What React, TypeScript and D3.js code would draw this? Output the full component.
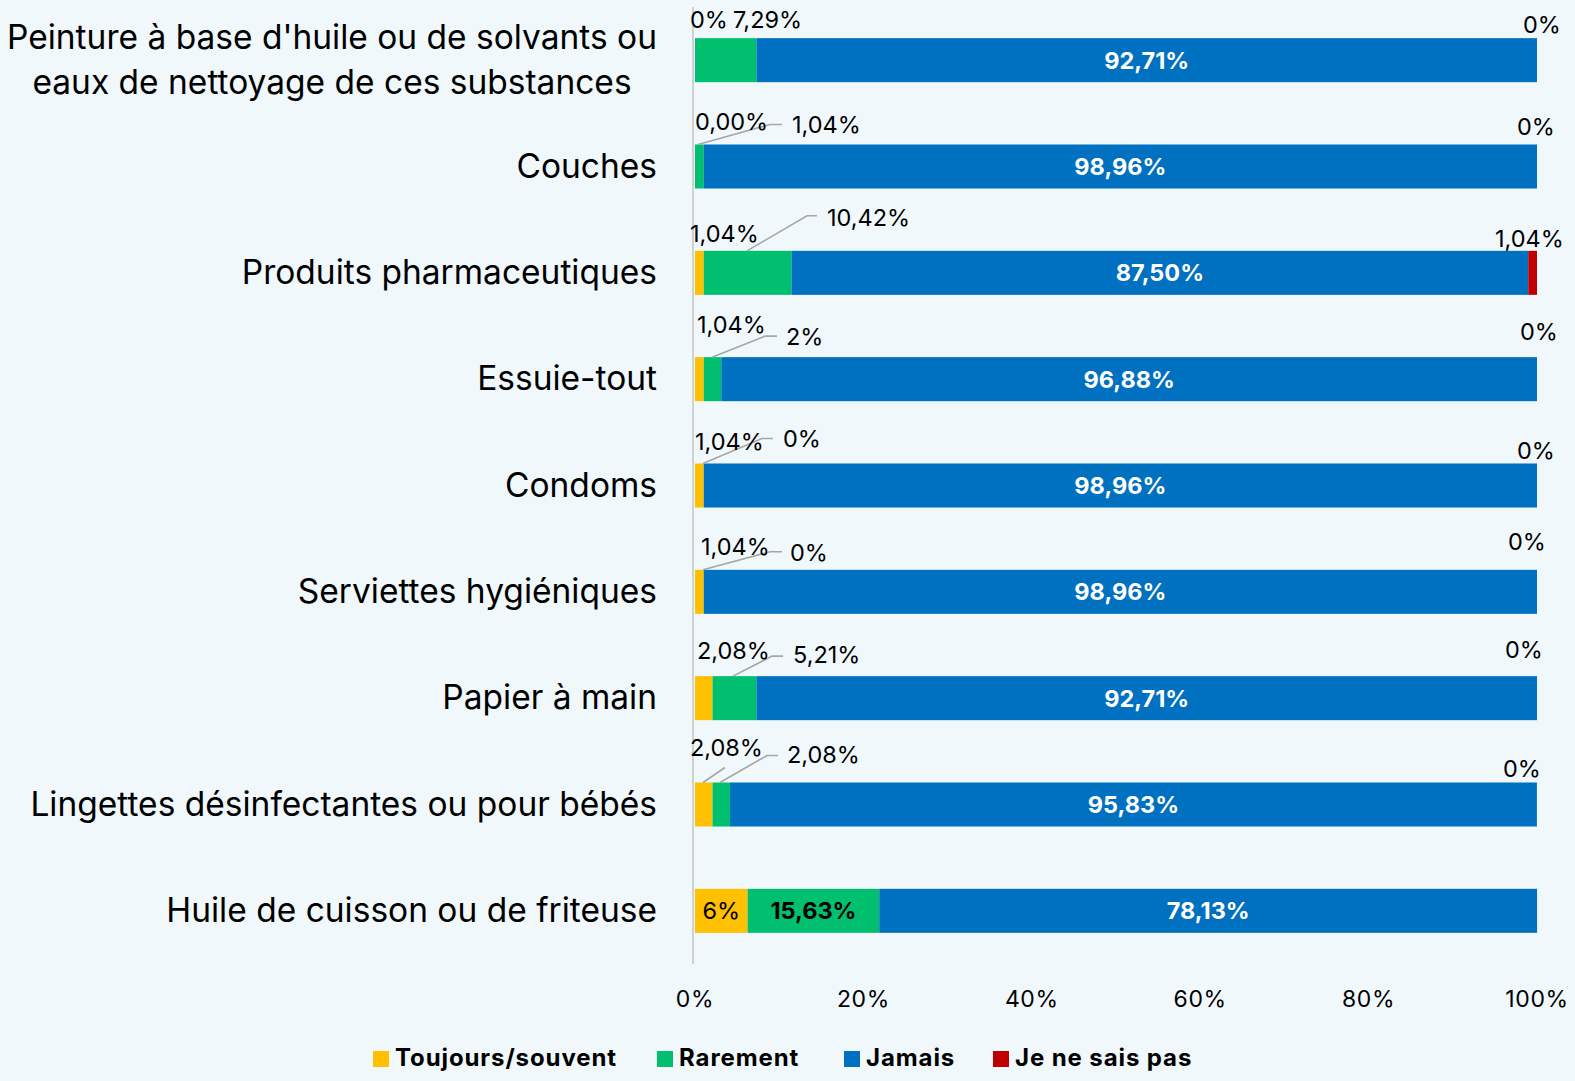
import React from 'react';
import * as d3 from 'd3';

// --- data ---
const categories = [
  "Peinture à base d'huile ou de solvants ou|eaux de nettoyage de ces substances",
  'Couches',
  'Produits pharmaceutiques',
  'Essuie-tout',
  'Condoms',
  'Serviettes hygiéniques',
  'Papier à main',
  'Lingettes désinfectantes ou pour bébés',
  'Huile de cuisson ou de friteuse',
];

const seriesNames = ['Toujours/souvent', 'Rarement', 'Jamais', 'Je ne sais pas'];
const seriesColors = ['#FFC000', '#00BF6F', '#0070C0', '#C00000'];

const toujours = [0, 0, 1.04, 1.04, 1.04, 1.04, 2.08, 2.08, 6.25];
const rarement = [7.29, 1.04, 10.42, 2.08, 0, 0, 5.21, 2.08, 15.63];
const jamais = [92.71, 98.96, 87.5, 96.88, 98.96, 98.96, 92.71, 95.83, 78.13];
const jnsp = [0, 0, 1.04, 0, 0, 0, 0, 0, 0];

const toujoursLabels = ['0%', '0,00%', '1,04%', '1,04%', '1,04%', '1,04%', '2,08%', '2,08%', '6%'];
const rarementLabels = ['7,29%', '1,04%', '10,42%', '2%', '0%', '0%', '5,21%', '2,08%', '15,63%'];
const jamaisLabels = ['92,71%', '98,96%', '87,50%', '96,88%', '98,96%', '98,96%', '92,71%', '95,83%', '78,13%'];
const jnspLabels = ['0%', '0%', '1,04%', '0%', '0%', '0%', '0%', '0%', ''];

const xTicks = [0, 20, 40, 60, 80, 100];

// --- hand-placed label layout (px offsets from bar origin / bar top) ---
const toujoursPos: ([number, number] | null)[] = [
  [-5, -10], [0, -14], [-5, -9], [2, -24], [0, -13], [6, -15], [2, -17], [-5, -26], null,
];
const rarementPos: ([number, number] | null)[] = [
  [38, -10], [97, -11], [132, -25], [91, -12], [88, -16], [95, -9], [98, -13], [92, -19], null,
];
// offsets from the bar end (100%)
const jnspPos: ([number, number] | null)[] = [
  [-14, -5], [-20, -9], [-42, -4], [-17, -17], [-20, -4], [-29, -20], [-32, -18], [-34, -5], null,
];
const rarementLeaders: ([number, number][] | null)[] = [
  null,
  [[3, 0], [75, -20], [87, -20]],
  [[52, 0], [112, -35], [122, -35]],
  [[17, 0], [70, -21], [82, -21]],
  [[8, 0], [67, -25], [78, -25]],
  [[8, 0], [75, -18], [87, -18]],
  [[38, 0], [77, -20], [88, -20]],
  [[25, 0], [72, -27], [83, -27]],
  null,
];
const toujoursLeaders: ([number, number][] | null)[] = [
  null, null, null, null, null, null, null, [[8, 0], [30, -15]], null,
];
const legendX = [373, 657, 844, 993];

const W = 1575;
const H = 1081;
const BG = '#F0F8FC';
const FONT = 'Inter, "Noto Sans", sans-serif';

const measure = (() => {
  let ctx: CanvasRenderingContext2D | null = null;
  return (text: string, font: string) => {
    if (!ctx) ctx = document.createElement('canvas').getContext('2d');
    if (!ctx) return text.length * 15;
    ctx.font = font;
    return ctx.measureText(text).width;
  };
})();

export default function App() {
  const rows = categories.map((c, i) => ({
    cat: c,
    t: toujours[i],
    r: rarement[i],
    j: jamais[i],
    n: jnsp[i],
  }));
  const stack = d3.stack<any>().keys(['t', 'r', 'j', 'n'])(rows);

  const x = d3.scaleLinear().domain([0, 100]).range([695, 1537]);
  const y = d3
    .scaleBand<string>()
    .domain(categories)
    .range([7, 964])
    .paddingInner(0.586)
    .paddingOuter(0.293);
  const bw = y.bandwidth();

  const catFontSize = 33.5;
  const catFont = `${catFontSize}px Inter`;
  const labelRight = 657;
  const lblSize = 23.5;

  const line = d3.line<[number, number]>();

  return (
    <svg width={W} height={H} style={{ position: 'absolute', left: 0, top: 0, background: BG }}
      fontFamily={FONT}>
      <rect x={0} y={0} width={W} height={H} fill={BG} />

      {/* category labels */}
      {categories.map((c) => {
        const lines = c.split('|');
        const cy = (y(c) as number) + bw / 2;
        const lh = 45;
        const widest = d3.max(lines, (l) => measure(l, catFont)) || 0;
        const cx = Math.max(labelRight - widest / 2, widest / 2 + 4);
        return (
          <text key={c} fontSize={catFontSize} fill="#000" textAnchor="middle">
            {lines.map((l, k) => (
              <tspan key={k} x={cx} y={cy + 11 + (k - (lines.length - 1) / 2) * lh}>{l}</tspan>
            ))}
          </text>
        );
      })}

      {/* bars */}
      {stack.map((s, si) => (
        <g key={si} fill={seriesColors[si]}>
          {s.map((d, i) => (
            <rect key={i} x={x(d[0])} y={y(categories[i])} width={Math.max(0, x(d[1]) - x(d[0]))} height={bw} />
          ))}
        </g>
      ))}

      {/* axis line */}
      <line x1={693} x2={693} y1={7} y2={964} stroke="#D0D0D0" strokeWidth={2} />

      {/* leader lines */}
      <g fill="none" stroke="#A6A6A6" strokeWidth={1.6}>
        {categories.map((c, i) => {
          const top = y(c) as number;
          const ox = x(0);
          return (
            <g key={c}>
              {rarementLeaders[i] && (
                <path d={line(rarementLeaders[i]!.map(([a, b]) => [ox + a, top + b] as [number, number])) || ''} />
              )}
              {toujoursLeaders[i] && (
                <path d={line(toujoursLeaders[i]!.map(([a, b]) => [ox + a, top + b] as [number, number])) || ''} />
              )}
            </g>
          );
        })}
      </g>

      {/* data labels */}
      {categories.map((c, i) => {
        const top = y(c) as number;
        const mid = top + bw / 2 + 8.5;
        const [t, r, j] = [stack[0][i], stack[1][i], stack[2][i]];
        const tp = toujoursPos[i];
        const rp = rarementPos[i];
        const np = jnspPos[i];
        return (
          <g key={c} fontSize={lblSize}>
            {tp ? (
              <text x={x(0) + tp[0]} y={top + tp[1]} fill="#000">{toujoursLabels[i]}</text>
            ) : (
              <text x={(x(t[0]) + x(t[1])) / 2} y={mid} fill="#000" textAnchor="middle">{toujoursLabels[i]}</text>
            )}
            {rp ? (
              <text x={x(0) + rp[0]} y={top + rp[1]} fill="#000">{rarementLabels[i]}</text>
            ) : (
              <text x={(x(r[0]) + x(r[1])) / 2} y={mid} fill="#000" fontWeight="bold" textAnchor="middle">{rarementLabels[i]}</text>
            )}
            <text x={(x(j[0]) + x(j[1])) / 2} y={mid} fill="#fff" fontWeight="bold" textAnchor="middle">{jamaisLabels[i]}</text>
            {np && jnspLabels[i] && (
              <text x={x(100) + np[0]} y={top + np[1]} fill="#000">{jnspLabels[i]}</text>
            )}
          </g>
        );
      })}

      {/* x tick labels */}
      {xTicks.map((v) => (
        <text key={v} x={x(v)} y={1007} fontSize={23} letterSpacing={0.6} textAnchor="middle" fill="#000">{v}%</text>
      ))}

      {/* legend */}
      {seriesNames.map((n, k) => (
        <g key={n} transform={`translate(${legendX[k]},0)`}>
          <rect x={0} y={1051} width={16} height={16} fill={seriesColors[k]} />
          <text x={22} y={1066} fontSize={24} fontWeight="bold" letterSpacing={0.9} fill="#000">{n}</text>
        </g>
      ))}
    </svg>
  );
}
